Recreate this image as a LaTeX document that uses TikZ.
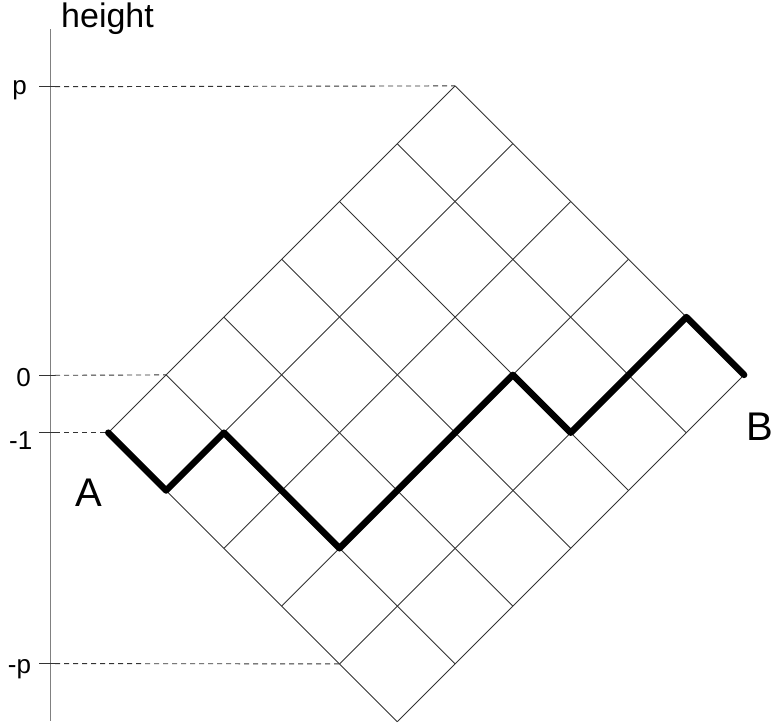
\documentclass[tikz,border=0pt]{standalone}
\usepackage{fontspec}
\setmainfont{Liberation Sans}
\begin{document}
\begin{tikzpicture}[x=1pt,y=-1pt,
  gridline/.style={draw=black!80, line width=0.9pt},
  guide/.style={draw=black!80, line width=0.9pt, dash pattern=on 5pt off 4pt},
  axisline/.style={draw=black!50, line width=1.5pt},
  tickline/.style={draw=black!80, line width=0.9pt},
  pathline/.style={draw=black, line width=6.5pt, line cap=round, line join=round},
  ticklabel/.style={font=\fontsize{26}{26}\selectfont, inner sep=0pt, anchor=base},
  ptlabel/.style={font=\fontsize{40}{40}\selectfont, inner sep=0pt, anchor=base}]
\useasboundingbox (0,0) rectangle (773,727);
% axis
\coordinate (axtop) at (50.7,29.3);
\coordinate (axbot) at (50.7,721);
\draw[axisline] (axtop) -- (axbot);
\node[font=\fontsize{34}{34}\selectfont, inner sep=0pt, anchor=base west] (hlab) at (61,27.5) {height};
% grid
\begin{scope}[shift={(108.3,432.7)}, x={(57.8pt,0pt)}, y={(0pt,57.8pt)}]
  \foreach \k in {0,...,5} {
    \draw[gridline] (\k,-\k) -- ({\k+6},{6-\k});
  }
  \foreach \j in {0,...,6} {
    \draw[gridline] (\j,\j) -- ({\j+5},{\j-5});
  }
  \coordinate (A) at (0,0);
  \coordinate (P1) at (1,-1);
  \coordinate (P2) at (2,0);
  \coordinate (P3) at (4,-2);
  \coordinate (P4) at (7,1);
  \coordinate (P5) at (8,0);
  \coordinate (P6) at (10,2);
  \coordinate (B) at (11,1);
  \coordinate (top) at (6,6);
  \coordinate (zero) at (1,1);
  \coordinate (mp) at (4,-4);
\end{scope}
% guides
\coordinate (tp) at (55,86.7);
\coordinate (t0) at (55,375.3);
\coordinate (tm1) at (55,432.7);
\coordinate (tmp) at (55,663.6);
\foreach \c/\yy in {tp/86.7,t0/375.3,tm1/432.7,tmp/663.6} {
  \draw[tickline] (39.3,\yy) -- (\c);
}
\draw[guide] (tp) -- (top);
\draw[guide] (t0) -- (zero);
\draw[guide] (tm1) -- (A);
\draw[guide] (tmp) -- (mp);
% tick labels
\node[ticklabel] (lp) at (19.5,95) {p};
\node[ticklabel] (l0) at (23.7,386.7) {0};
\node[ticklabel] (lm1) at (20.8,449) {-1};
\node[ticklabel] (lmp) at (19.5,673) {-p};
% path
\draw[pathline] (A) -- (P1) -- (P2) -- (P3) -- (P4) -- (P5) -- (P6) -- (B);
\node[ptlabel] (la) at (89,506) {A};
\node[ptlabel] (lb) at (759.5,440) {B};
\end{tikzpicture}
\end{document}
